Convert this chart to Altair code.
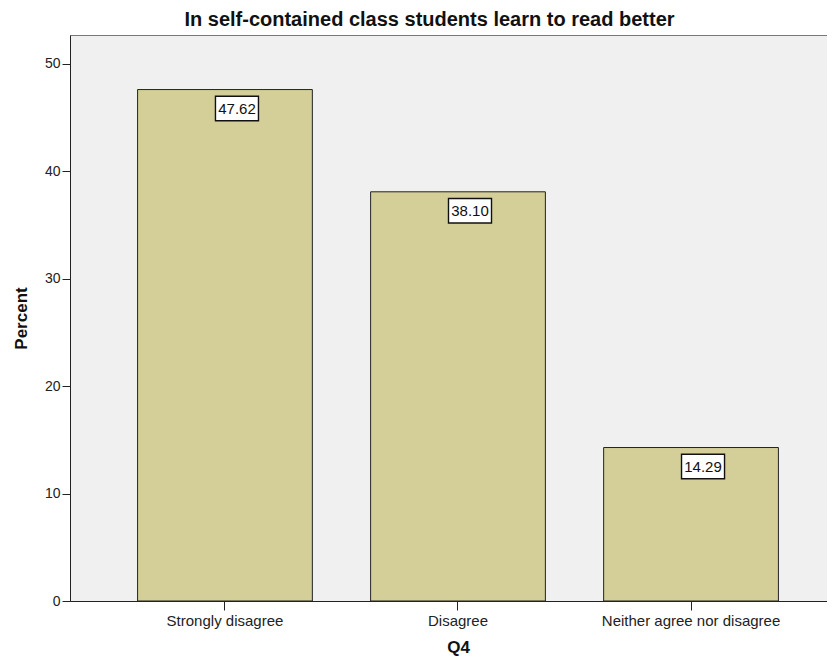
import altair as alt
import pandas as pd

categories = ["Strongly disagree", "Disagree", "Neither agree nor disagree"]
percents = [47.62, 38.10, 14.29]
labels = ["47.62", "38.10", "14.29"]

df = pd.DataFrame({"cat": categories, "pct": percents, "lab": labels})

FONT = "Liberation Sans"

x = alt.X("cat:N", sort=categories,
          scale=alt.Scale(paddingInner=0.25, paddingOuter=0.29, range=[0, 776]),
          axis=alt.Axis(title="Q4", labelAngle=0, labelFont=FONT, labelFontSize=15,
                        labelColor="#222", titleFont=FONT, titleFontSize=17,
                        titleFontWeight="bold", titleColor="#111", titlePadding=11,
                        domainColor="#222", tickColor="#222", tickSize=9,
                        labelPadding=3))
y = alt.Y("pct:Q", scale=alt.Scale(domain=[0, 52.7], nice=False),
          axis=alt.Axis(title="Percent", values=[0, 10, 20, 30, 40, 50], grid=False,
                        labelFont=FONT, labelFontSize=14, labelColor="#222",
                        titleFont=FONT, titleFontSize=17, titleFontWeight="bold",
                        titleColor="#111", titlePadding=14, domainColor="#222",
                        tickColor="#222", tickSize=8, labelPadding=2))

bars = alt.Chart(df).mark_bar(color="#d4cf98", stroke="#222", strokeWidth=1).encode(x=x, y=y)

box = alt.Chart(df).mark_point(
    shape="M-1,-0.57H1V0.57H-1Z", size=1850, filled=True, fill="white",
    stroke="#111", strokeWidth=1.4, opacity=1, yOffset=19, xOffset=12
).encode(x=x, y=y)

txt = alt.Chart(df).mark_text(font=FONT, fontSize=15, color="#111", yOffset=19,
                              xOffset=12, baseline="middle", align="center").encode(
    x=x, y=y, text="lab:N")

chart = alt.layer(bars, box, txt).properties(
    width=757, height=566,
    autosize=alt.AutoSizeParams(type="none"),
    padding={"left": 62, "top": 27, "right": 0, "bottom": 55},
    title=alt.Title("In self-contained class students learn to read better",
                    font=FONT, fontSize=20, fontWeight="bold", color="#111",
                    anchor="middle", dx=-19, offset=5)
).configure_view(fill="#f0f0f0", stroke="#777", strokeWidth=1)

chart.save("out.html", embed_options={"renderer": "svg", "actions": False})
